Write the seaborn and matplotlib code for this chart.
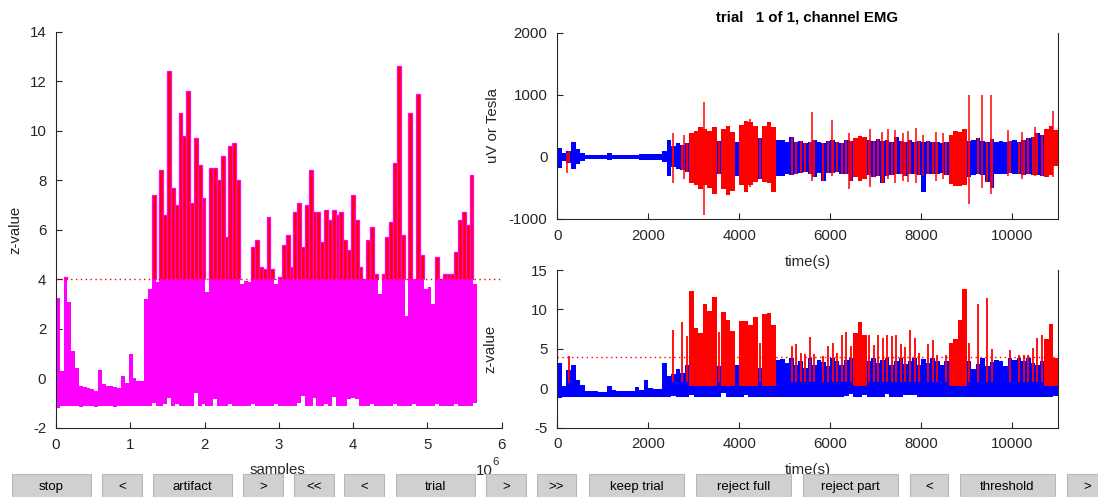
import numpy as np
import pandas as pd
import matplotlib
matplotlib.use("Agg")
import matplotlib.pyplot as plt
from matplotlib.patches import Rectangle
import seaborn as sns

# ---------------- data ----------------
fs = 515.6          # samples per second
bin_width = 100     # seconds per envelope bin
t_end = 11010       # seconds
threshold = 4

# upper envelope of the z-value per 100 s bin
z_hi = [3.25, 0.3, 4.1, 3.1, 1.1, 0.4, -0.3, -0.35, -0.4, -0.45,
        -0.5, 0.35, -0.25, -0.3, -0.3, -0.35, -0.4, 0.1, -0.2, 1.0,
        0.0, -0.1, -0.1, 3.2, 3.6, 7.4, 3.9, 8.4, 6.6, 12.4,
        7.7, 7.0, 10.7, 9.8, 11.6, 7.1, 9.7, 8.6, 7.3, 3.5,
        8.5, 8.5, 8.0, 9.0, 5.7, 9.4, 9.5, 8.0, 3.8, 3.95,
        3.9, 5.3, 5.6, 4.5, 4.4, 6.5, 4.4, 3.8, 4.1, 5.4,
        5.8, 4.5, 6.7, 7.1, 5.3, 7.0, 8.4, 6.7, 6.7, 5.5,
        6.8, 6.4, 6.8, 6.6, 6.7, 5.6, 5.2, 7.4, 6.4, 4.5,
        4.0, 5.6, 6.1, 4.2, 3.4, 4.2, 5.7, 6.3, 8.7, 12.6,
        5.8, 2.5, 10.7, 4.0, 11.5, 5.0, 3.6, 3.7, 3.0, 4.9,
        4.0, 4.2, 4.2, 4.2, 5.1, 6.4, 6.7, 6.2, 8.2, 3.8]

# top of the non-artifact (blue) z-value body per bin
z_body = [3.25, 0.3, 2.3, 3.0, 1.1, 0.4, -0.3, -0.35, -0.4, -0.45,
          -0.5, 0.35, -0.25, -0.3, -0.3, -0.35, -0.4, 0.1, -0.2, 1.0,
          0.0, -0.1, -0.1, 3.2, 1.5, 1.8, 2.5, 2.0, 3.0, 1.5,
          1.5, 2.0, 1.5, 3.4, 1.5, 2.8, 2.0, 2.5, 1.8, 3.0,
          2.0, 2.2, 1.8, 2.0, 2.6, 1.8, 2.0, 2.0, 3.6, 3.7,
          3.2, 3.8, 3.0, 3.4, 2.6, 3.8, 3.0, 3.6, 3.3, 2.8,
          3.9, 3.4, 3.0, 3.6, 3.8, 2.8, 3.2, 3.0, 3.5, 3.9,
          3.2, 3.6, 3.9, 3.0, 3.4, 3.9, 3.1, 3.5, 3.8, 3.0,
          3.7, 3.2, 3.9, 3.4, 3.0, 3.5, 2.5, 2.8, 3.0, 3.2,
          3.4, 2.5, 3.1, 3.9, 2.8, 3.3, 3.6, 3.5, 2.8, 3.9,
          3.6, 3.9, 3.4, 3.8, 3.2, 3.0, 3.5, 3.3, 3.0, 3.8]

# lower envelope of the z-value per bin
z_lo = [-1.2, -1.1, -1.1, -1.1, -1.1, -1.1, -1.15, -1.1, -1.1, -1.1,
        -1.15, -1.1, -1.1, -1.1, -1.1, -1.15, -1.1, -1.1, -1.1, -1.1,
        -1.1, -1.1, -1.1, -1.1, -1.1, -1.0, -1.1, -1.1, -1.05, -0.8,
        -1.1, -1.05, -1.1, -1.1, -1.1, -1.1, -0.6, -1.1, -1.05, -1.1,
        -1.1, -0.85, -1.1, -1.1, -1.1, -1.05, -1.1, -1.1, -1.1, -1.1,
        -1.1, -1.05, -1.1, -1.1, -1.1, -1.1, -1.1, -1.05, -1.1, -1.1,
        -1.1, -1.1, -1.1, -1.0, -0.7, -1.1, -1.1, -0.8, -1.1, -1.1,
        -1.05, -1.1, -0.75, -1.1, -1.1, -1.1, -0.85, -0.8, -0.85, -1.1,
        -1.1, -1.1, -1.05, -1.1, -1.1, -1.1, -1.1, -1.1, -1.05, -1.1,
        -1.1, -1.1, -1.1, -1.05, -1.1, -1.1, -1.1, -1.1, -1.1, -1.05,
        -1.1, -1.1, -1.1, -1.1, -1.05, -1.1, -1.1, -1.1, -1.1, -1.0]

# raw EMG envelope (uV) per bin
emg_hi = [150, 70, 90, 250, 130, 60, 40, 30, 25, 25,
          25, 60, 30, 25, 25, 30, 30, 35, 50, 45,
          45, 45, 55, 90, 280, 170, 220, 200, 220, 380,
          420, 480, 450, 420, 480, 260, 450, 500, 400, 250,
          520, 580, 560, 500, 300, 500, 560, 480, 280, 280,
          250, 330, 240, 260, 230, 240, 280, 240, 230, 260,
          270, 240, 230, 280, 260, 300, 340, 320, 280, 260,
          290, 260, 280, 240, 330, 260, 240, 280, 250, 260,
          240, 260, 250, 240, 230, 250, 350, 420, 400, 450,
          260, 280, 300, 260, 250, 290, 250, 260, 240, 260,
          280, 250, 280, 300, 330, 380, 360, 450, 500, 430]
emg_lo = [-180, -60, -100, -200, -120, -60, -40, -30, -25, -25,
          -25, -50, -30, -25, -25, -30, -30, -35, -45, -45,
          -45, -45, -50, -80, -300, -160, -200, -210, -240, -420,
          -450, -520, -450, -500, -600, -280, -520, -620, -550, -300,
          -450, -560, -450, -400, -350, -400, -420, -560, -300, -300,
          -270, -290, -280, -250, -240, -280, -330, -260, -380, -260,
          -250, -240, -280, -270, -380, -330, -380, -350, -290, -320,
          -310, -420, -300, -290, -280, -270, -300, -280, -270, -290,
          -560, -270, -280, -270, -250, -290, -440, -460, -470, -450,
          -330, -290, -270, -290, -400, -500, -270, -280, -270, -250,
          -270, -280, -290, -270, -290, -290, -310, -320, -290, -150]

# long artifact segments (s)
art_start = [2880, 3640, 4040, 4520, 6500, 8640, 10700]
art_end = [3500, 3860, 4440, 4830, 6760, 9000, 10960]

# isolated raw-signal artifact spikes (s, uV)
spk_t = [220, 2550, 2785, 3225, 4230, 5590, 6030, 6400, 6870, 7130, 7260, 7420,
         7600, 7715, 7890, 8040, 8330, 8480, 9055, 9325, 9530, 9910, 10205, 10500, 10900]
spk_hi = [60, 390, 355, 880, 620, 720, 600, 380, 450, 400, 450, 430,
          380, 420, 470, 350, 400, 380, 1000, 1000, 1000, 430, 400, 480, 740]
spk_lo = [-260, -420, -360, -935, -480, -380, -300, -520, -480, -420, -350, -420,
          -380, -400, -420, -300, -380, -350, -750, -500, -600, -300, -350, -300, -330]

button_labels = ["stop", "<", "artifact", ">", "<<", "<", "trial", ">", ">>",
                 "keep trial", "reject full", "reject part", "<", "threshold", ">"]

# ---------------- layout / style ----------------
W, H = 1098, 497
btn_x0 = [12, 102, 153, 243, 294, 344, 396, 486, 537, 589, 696, 803, 910, 960, 1067]
btn_x1 = [91, 142, 232, 283, 334, 384, 475, 526, 576, 684, 791, 898, 948, 1055, 1107]
AX_COL = "#262626"
FONT = "Liberation Sans"
FS = 10.8

sns.set_theme(style="white")
plt.rcParams["font.family"] = [FONT, "DejaVu Sans"]
plt.rcParams["axes.edgecolor"] = AX_COL
plt.rcParams["axes.linewidth"] = 0.8
plt.rcParams["axes.unicode_minus"] = False

df = pd.DataFrame({"z_hi": z_hi, "z_body": z_body, "z_lo": z_lo,
                   "emg_hi": emg_hi, "emg_lo": emg_lo})
n = len(df)
df["t"] = np.arange(n) * bin_width + bin_width / 2
df["samples"] = df["t"] * fs
in_block = np.zeros(n, dtype=bool)
for s, e in zip(art_start, art_end):
    in_block |= (df["t"].values >= s) & (df["t"].values <= e)
df["block"] = in_block


def steps(vals, scale=1.0):
    edges = np.arange(len(vals) + 1) * bin_width * scale
    return np.repeat(edges, 2)[1:-1], np.repeat(np.asarray(vals, float), 2)


fig = plt.figure(figsize=(W / 100, H / 100), dpi=100)
fig.patch.set_facecolor("white")


def px_axes(x0, x1, ytop, ybot):
    return fig.add_axes([x0 / W, 1 - ybot / H, (x1 - x0) / W, (ybot - ytop) / H])


def style(ax, right=False):
    ax.set_facecolor("white")
    ax.spines["top"].set_visible(False)
    ax.spines["right"].set_visible(right)
    ax.tick_params(direction="in", length=4, width=0.8, colors=AX_COL,
                   labelsize=FS, pad=7, left=True, bottom=True, right=False, top=False)
    for lab in ax.get_xticklabels() + ax.get_yticklabels():
        lab.set_fontfamily(FONT)


# ---------------- left: z-value vs samples ----------------
axL = px_axes(56, 501.7, 31.8, 427.8)
body = np.minimum(df["z_hi"].values, threshold)
xs, ylo = steps(df["z_lo"].values, fs)
_, yhi = steps(body, fs)
axL.fill_between(xs, ylo, yhi, color="#ff00ff", lw=0)
above = df["z_hi"] > threshold
axL.bar(df.loc[above, "samples"], df.loc[above, "z_hi"] - threshold, bottom=threshold,
        width=bin_width * fs, color="#ff0000", edgecolor="#ff00ff", linewidth=0.9)
thr_df = pd.DataFrame({"x": [0, 6e6], "y": [threshold, threshold]})
sns.lineplot(data=thr_df, x="x", y="y", ax=axL, color="#ff0000", lw=1,
             linestyle=(0, (1, 2.5)))
axL.set_xlim(0, 6e6)
axL.set_ylim(-2, 14)
axL.set_xticks(np.arange(0, 7) * 1e6)
axL.set_xticklabels([str(i) for i in range(7)])
axL.set_yticks(np.arange(-2, 15, 2))
axL.set_xlabel("")
axL.set_ylabel("")
style(axL)

# ---------------- top right: raw EMG ----------------
axT = px_axes(557.3, 1058.3, 33, 219)
xs, ylo = steps(df["emg_lo"].values)
_, yhi = steps(df["emg_hi"].values)
axT.fill_between(xs, ylo, yhi, color="#0000ff", lw=0)
blk = df[df["block"]]
axT.bar(blk["t"], blk["emg_hi"] - blk["emg_lo"], bottom=blk["emg_lo"], width=bin_width,
        color="#ff0000", linewidth=0)
thin = df[(df["z_hi"] > threshold) & (~df["block"])]
axT.vlines(thin["t"], thin["emg_lo"], thin["emg_hi"], color="#ff0000", lw=1.3)
axT.vlines(spk_t, spk_lo, spk_hi, color="#ff0000", lw=1.1)
axT.set_xlim(0, t_end)
axT.set_ylim(-1000, 2000)
axT.set_xticks(np.arange(0, 10001, 2000))
axT.set_yticks([-1000, 0, 1000, 2000])
style(axT, right=True)

# ---------------- bottom right: z-value vs time ----------------
axB = px_axes(557.3, 1058.3, 270, 427.7)
xs, ylo = steps(df["z_lo"].values)
_, yhi = steps(df["z_body"].values)
axB.fill_between(xs, ylo, yhi, color="#0000ff", lw=0)
axB.bar(blk["t"], blk["z_hi"] - 0.3, bottom=0.3, width=bin_width, color="#ff0000", linewidth=0)
axB.vlines(thin["t"], 0.8, thin["z_hi"], color="#ff0000", lw=1.3)
thr_df2 = pd.DataFrame({"x": [0, t_end], "y": [threshold, threshold]})
sns.lineplot(data=thr_df2, x="x", y="y", ax=axB, color="#ff0000", lw=1,
             linestyle=(0, (1, 2.5)))
axB.set_xlim(0, t_end)
axB.set_ylim(-5, 15)
axB.set_xticks(np.arange(0, 10001, 2000))
axB.set_yticks([-5, 0, 5, 10, 15])
axB.set_xlabel("")
axB.set_ylabel("")
style(axB, right=True)

# ---------------- overlay texts (pixel coordinates) ----------------
axO = fig.add_axes([0, 0, 1, 1], zorder=5)
axO.set_xlim(0, W)
axO.set_ylim(H, 0)
axO.axis("off")
tk = dict(color=AX_COL, fontsize=FS, family=FONT, ha="center", va="center")
axO.text(15, 230, "z-value", rotation=90, **tk)
axO.text(278, 470, "samples", **tk)
axO.text(476, 471, "10", color=AX_COL, fontsize=FS, family=FONT, ha="left", va="center")
axO.text(492, 462, "6", color=AX_COL, fontsize=FS * 0.75, family=FONT, ha="left", va="center")
axO.text(493, 126, "uV or Tesla", rotation=90, **tk)
axO.text(808, 262, "time(s)", **tk)
axO.text(490, 349, "z-value", rotation=90, **tk)
axO.text(808, 470, "time(s)", **tk)
axO.text(807, 17, "trial   1 of 1, channel EMG", color="black", fontsize=FS,
         family=FONT, fontweight="bold", ha="center", va="center")

# ---------------- buttons ----------------
axBtn = fig.add_axes([0, 0, 1, 1], zorder=10)
axBtn.set_xlim(0, W)
axBtn.set_ylim(H, 0)
axBtn.axis("off")
for lab, x0, x1 in zip(button_labels, btn_x0, btn_x1):
    axBtn.add_patch(Rectangle((x0, 474.3), x1 - x0, 30, facecolor="#d0d0d0",
                              edgecolor="#b8b8b8", lw=0.8))
    axBtn.text((x0 + x1) / 2, 487, lab, fontsize=9.5, family=FONT, color="black",
               ha="center", va="center")

fig.savefig("out.png", dpi=100, facecolor="white")
